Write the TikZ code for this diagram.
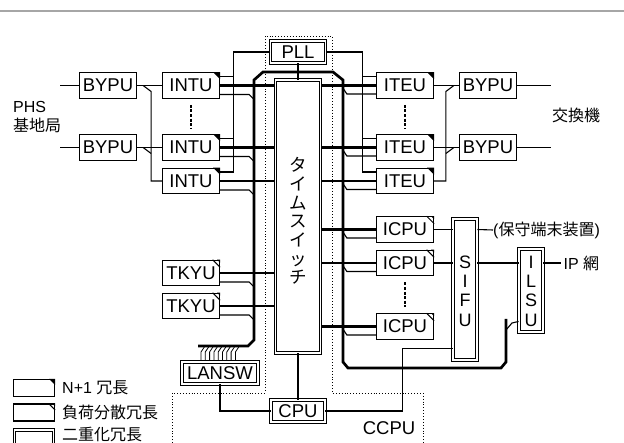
\documentclass[tikz,border=0pt]{standalone}
\usepackage{fontspec}
\setmainfont{Liberation Sans}
\newfontfamily\jp{Noto Sans CJK JP}
\usetikzlibrary{calc}
\newcommand\lbl{\fontsize{18.5}{20}\selectfont}
\newcommand\smf{\fontsize{16}{18}\selectfont}
\newcommand\vlbl{\fontsize{18}{19.3}\selectfont}
\begin{document}
\begin{tikzpicture}[x=1pt,y=-1pt,
  every node/.style={inner sep=0pt},
  box/.style={draw, line width=1.2pt, minimum width=57pt, minimum height=25.5pt, font=\lbl},
  dbox/.style={draw, line width=0.9pt, double, double distance=1.8pt, font=\lbl},
  conn/.style={line width=1.1pt},
  thickline/.style={line width=2.7pt},
  bus/.style={line width=2.7pt, line join=miter},
  dotline/.style={line width=0.9pt, dotted},
  dashline/.style={line width=1.1pt, dash pattern=on 3pt off 1.6pt},
  lab/.style={font=\smf, anchor=west},
  vtext/.style={align=center, font=\vlbl},
]
\useasboundingbox (0,0) rectangle (624,443);
% top rule
\draw[gray!70, line width=1.5pt] (0,11) -- (624,11);

% CCPU dotted outline
\draw[dotline] (172,446) -- (172,393) -- (265,393) -- (265,36) -- (332,36) -- (332,393) -- (423,393) -- (423,446);
\node[font=\lbl] (ccpu) at (389,428) {CCPU};

% boxes left
\node[box] (bypuL1) at (108,85.5) {BYPU};
\node[box] (bypuL2) at (108,147.5) {BYPU};
\node[box] (intu1) at (191,85.5) {INTU};
\node[box] (intu2) at (191,147.5) {INTU};
\node[box] (intu3) at (191,181) {INTU};
\node[box] (tkyu1) at (191,273) {TKYU};
\node[box] (tkyu2) at (191,306) {TKYU};
% boxes right
\node[box] (iteu1) at (405,85.5) {ITEU};
\node[box] (iteu2) at (405,147.5) {ITEU};
\node[box] (iteu3) at (405,181) {ITEU};
\node[box] (bypuR1) at (488,85.5) {BYPU};
\node[box] (bypuR2) at (488,147.5) {BYPU};
\node[box] (icpu1) at (405,229.5) {ICPU};
\node[box] (icpu2) at (405,263) {ICPU};
\node[box] (icpu3) at (405,326.5) {ICPU};

% duplicated units
\node[dbox, minimum width=55pt, minimum height=22pt] (pll) at (298,52) {PLL};
\node[dbox, minimum width=45pt, minimum height=273pt] (tsw) at (298,216.5) {};
\node[align=center, font=\jp\fontsize{17.5}{18.67}\selectfont] (tswtext) at (298,221) {タ\\イ\\ム\\ス\\イ\\ッ\\チ};
\node[dbox, minimum width=76pt, minimum height=22pt] (lansw) at (220,373) {LANSW};
\node[dbox, minimum width=54pt, minimum height=22pt] (cpu) at (298,411) {CPU};
\node[dbox, minimum width=24pt, minimum height=141pt] (sifu) at (465,289.5) {};
\node[vtext] (sifutext) at (465,291) {S\\I\\F\\U};
\node[dbox, minimum width=24pt, minimum height=83pt] (ilsu) at (531,290.5) {};
\node[vtext] (ilsutext) at (531,291) {I\\L\\S\\U};

% corner marks
\foreach \n in {intu1,intu2,intu3,iteu1,iteu2,iteu3}
  \fill (\n.north east) -- ++(-7,0) -- ++(7,7) -- cycle;
\foreach \n in {tkyu1,tkyu2,icpu1,icpu2,icpu3} {
  \draw[line width=1pt] ($(\n.north east)+(-7.5,0)$) -- ($(\n.north east)+(0,7.5)$);
  \fill (\n.north east) -- ++(-3,0) -- ++(3,3) -- cycle;
}

% dashed "..." between units
\draw[dashline] ($(intu1.south)+(0,6)$) -- ($(intu2.north)+(0,-6)$);
\draw[dashline] ($(iteu1.south)+(0,6)$) -- ($(iteu2.north)+(0,-6)$);
\draw[dashline] ($(icpu2.south)+(0,6)$) -- ($(icpu3.north)+(0,-6)$);

% outside labels
\node[lab] (phs) at (13,107) {PHS};
\node[lab] (phs2) at (13,125) {\jp 基地局};
\node[lab] (exch) at (552,115) {\jp 交換機};
\coordinate (inL1) at (60,85.5);
\coordinate (inL2) at (60,147.5);
\coordinate (outR1) at (551,85.5);
\coordinate (outR2) at (551,147.5);
\draw[conn] (inL1) -- (bypuL1.west);
\draw[conn] (inL2) -- (bypuL2.west);
\draw[conn] (bypuR1.east) -- (outR1);
\draw[conn] (bypuR2.east) -- (outR2);

% bypass left
\draw[conn] (bypuL1.east) -- (intu1.west);
\draw[conn] (bypuL2.east) -- (intu2.west);
\draw[conn] ($(bypuL1.east)+(6,0)$) -- ++(8,6) |- (intu3.west);
\draw[conn] ($(bypuL2.east)+(6,0)$) -- ++(8,6);
% bypass right
\draw[conn] (iteu1.east) -- (bypuR1.west);
\draw[conn] (iteu2.east) -- (bypuR2.west);
\draw[conn] ($(bypuR1.west)+(-5,0)$) -- ++(-8,6) |- (iteu3.east);
\draw[conn] ($(bypuR2.west)+(-5,0)$) -- ++(-8,6);

% PLL clock lines
\draw[conn] (pll.west) -| ($(intu3.east)+(13,-9)$) -- ($(intu3.east)+(0,-9)$);
\draw[conn] ($(intu1.east)+(0,-9)$) -- ++(13,0);
\draw[conn] ($(intu2.east)+(0,-9)$) -- ++(13,0);
\draw[conn] (pll.east) -| ($(iteu3.west)+(-13,-9)$) -- ($(iteu3.west)+(0,-9)$);
\draw[conn] ($(iteu1.west)+(0,-9)$) -- ++(-13,0);
\draw[conn] ($(iteu2.west)+(0,-9)$) -- ++(-13,0);
\draw[conn] (pll.south) -- (pll.south |- tsw.north);

% control bus
\draw[bus] (198,346) -- (248,346) -- (254,340) -- (254,80) -- (263,72) -- (333,72) -- (343,80)
  -- (343,362) -- (348,368) -- (501,368) -- (506,362) -- (506,319);
\foreach \i in {0,...,8}
  \draw[line width=0.8pt] ({201+4.3*\i},361) -- ({201+4.3*\i},352) -- ({205+4.3*\i},346);
\coordinate (swp) at (506,330);
\coordinate (ilsuIn) at ($(ilsu.south west)+(0,-11)$);
\draw[conn] (swp) -- ++(6,-7) -- (ilsuIn);

% speech paths to time switch
\foreach \n in {intu1,intu2,intu3,tkyu1,tkyu2} {
  \draw[thickline] (\n.east) -- (\n.east -| tsw.west);
  \draw[conn] ($(\n.east)+(0,9)$) -- ++(29,0) -- ++(5,5);
}
\foreach \n in {iteu1,iteu2,iteu3,icpu1,icpu2,icpu3} {
  \draw[thickline] (\n.west) -- (\n.west -| tsw.east);
  \draw[conn] ($(\n.west)+(0,8.5)$) -- ++(-29,0) -- ++(-4,-6);
}

% CPU links
\draw[conn] (tsw.south -| cpu.north) -- (cpu.north);
\draw[conn] (lansw.south) |- (cpu.west);
\coordinate (sifuIn) at ($(sifu.south west)+(0,-12)$);
\draw[conn] (cpu.east) -| ($(sifuIn)+(-50,0)$) -- (sifuIn);

% SIFU / ILSU
\draw[conn] (icpu1.east) -- (icpu1.east -| sifu.west);
\draw[conn] (icpu2.east) -- (icpu2.east -| sifu.west);
\node[lab] (maint) at (493,230) {({\jp 保守端末装置})};
\draw[conn] (icpu1.east -| sifu.east) -- (maint.west);
\draw[conn] (icpu2.east -| sifu.east) -- (icpu2.east -| ilsu.west);
\coordinate (ipEnd) at ($(ilsu.east)+(18,-27.5)$);
\draw[conn] ($(ilsu.east)+(0,-27.5)$) -- (ipEnd);
\node[lab] (ipnet) at ($(ipEnd)+(2,0)$) {IP {\jp 網}};

% legend
\node[draw, line width=1.1pt, minimum width=41pt, minimum height=17pt] (leg1) at (34,388) {};
\fill (leg1.north east) -- ++(-6,0) -- ++(6,6) -- cycle;
\node[lab] (leg1t) at (62,388) {N+1 {\jp 冗長}};
\node[draw, line width=1.1pt, minimum width=41pt, minimum height=17pt] (leg2) at (34,412.5) {};
\draw[line width=1pt] ($(leg2.north east)+(-6.5,0)$) -- ($(leg2.north east)+(0,6.5)$);
\fill (leg2.north east) -- ++(-3,0) -- ++(3,3) -- cycle;
\node[lab] (leg2t) at (62,412.5) {\jp 負荷分散冗長};
\node[dbox, minimum width=39pt, minimum height=16pt] (leg3) at (34,438) {};
\node[lab] (leg3t) at (62,434.5) {\jp 二重化冗長};
\end{tikzpicture}
\end{document}
